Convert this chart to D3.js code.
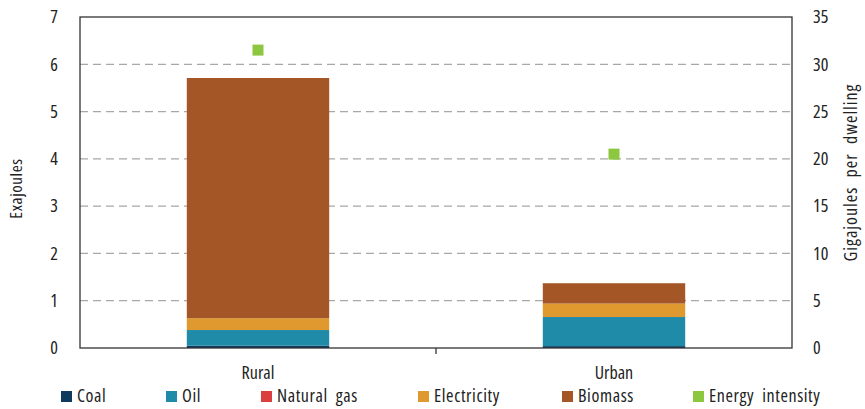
<!DOCTYPE html>
<html>
<head>
<meta charset="utf-8">
<script src="https://cdn.jsdelivr.net/npm/d3@7"></script>
<style>
  html, body { margin: 0; padding: 0; background: #fff; overflow: hidden; }
  svg { display: block; }
  text { font-family: "Open Sans", "DejaVu Sans", sans-serif; font-stretch: 75%; fill: #222; }
</style>
</head>
<body>
<div id="chart"></div>
<script>
var categories = ["Rural", "Urban"];
var fuels = ["Coal", "Oil", "Natural gas", "Electricity", "Biomass"];
var coal = [0.05, 0.04];
var oil = [0.33, 0.615];
var naturalGas = [0, 0];
var electricity = [0.25, 0.285];
var biomass = [5.08, 0.43];
var energyIntensity = [31.5, 20.5];
var leftTicks = [0, 1, 2, 3, 4, 5, 6, 7];
var rightTicks = [0, 5, 10, 15, 20, 25, 30, 35];

var colors = {
    "Coal": "#0e3a5e",
    "Oil": "#1f8ba9",
    "Natural gas": "#d9403f",
    "Electricity": "#df992e",
    "Biomass": "#a45627",
    "Energy intensity": "#8dc63f"
};

var outerWidth = 865;
var outerHeight = 409;
var marginLeft = 80;
var marginRight = 73;
var marginTop = 17;
var marginBottom = 61;
var innerWidth = outerWidth - marginLeft - marginRight;
var innerHeight = outerHeight - marginTop - marginBottom;

var rows = categories.map(function(c, i){
    return {
        category: c,
        "Coal": coal[i],
        "Oil": oil[i],
        "Natural gas": naturalGas[i],
        "Electricity": electricity[i],
        "Biomass": biomass[i],
        intensity: energyIntensity[i]
    };
});

var x = d3.scaleBand()
        .domain(categories)
        .range([marginLeft, marginLeft + innerWidth]);

var y = d3.scaleLinear()
        .domain([0, 7])
        .range([marginTop + innerHeight, marginTop]);

var y2 = d3.scaleLinear()
        .domain([0, 35])
        .range([marginTop + innerHeight, marginTop]);

var svg = d3.select("#chart").append("svg")
            .attr("width", outerWidth)
            .attr("height", outerHeight);

// gridlines
svg.append("g")
    .selectAll("line")
    .data(leftTicks.filter(function(d){ return d > 0 && d < 7; }))
    .enter()
    .append("line")
    .attr("x1", marginLeft)
    .attr("x2", marginLeft + innerWidth)
    .attr("y1", function(d){ return y(d); })
    .attr("y2", function(d){ return y(d); })
    .attr("stroke", "#a8a8a8")
    .attr("stroke-width", 1.3)
    .attr("stroke-dasharray", "8,5");

// stacked bars
var series = d3.stack().keys(fuels)(rows);
var barWidth = x.bandwidth() * 0.4;

svg.append("g")
    .selectAll("g")
    .data(series)
    .enter()
    .append("g")
    .attr("fill", function(d){ return colors[d.key]; })
    .selectAll("rect")
    .data(function(d){ return d; })
    .enter()
    .append("rect")
    .attr("x", function(d){ return x(d.data.category) + (x.bandwidth() - barWidth) / 2; })
    .attr("width", barWidth)
    .attr("y", function(d){ return y(d[1]); })
    .attr("height", function(d){ return y(d[0]) - y(d[1]); });

// energy intensity markers
var sq = 11;
svg.append("g")
    .selectAll("rect")
    .data(rows)
    .enter()
    .append("rect")
    .attr("x", function(d){ return x(d.category) + x.bandwidth() / 2 - sq / 2; })
    .attr("y", function(d){ return y2(d.intensity) - sq / 2; })
    .attr("width", sq)
    .attr("height", sq)
    .attr("fill", colors["Energy intensity"]);

// frame
svg.append("rect")
    .attr("x", marginLeft)
    .attr("y", marginTop)
    .attr("width", innerWidth)
    .attr("height", innerHeight)
    .attr("fill", "none")
    .attr("stroke", "#333")
    .attr("stroke-width", 1.3);

// axes
function cleanAxis(g) {
    g.attr("font-family", null).attr("font-size", null).attr("fill", null);
    g.select(".domain").remove();
    g.selectAll(".tick line").remove();
    g.selectAll(".tick text").style("font-size", "18px").attr("fill", "#222");
}

svg.append("g")
    .attr("transform", "translate(" + marginLeft + ",0)")
    .call(d3.axisLeft(y).tickValues(leftTicks).tickFormat(d3.format("d")).tickSize(0).tickPadding(22))
    .call(cleanAxis);

svg.append("g")
    .attr("transform", "translate(" + (marginLeft + innerWidth) + ",0)")
    .call(d3.axisRight(y2).tickValues(rightTicks).tickFormat(d3.format("d")).tickSize(0).tickPadding(21))
    .call(cleanAxis);

svg.append("g")
    .attr("transform", "translate(0," + (marginTop + innerHeight) + ")")
    .call(d3.axisBottom(x).tickSize(0).tickPadding(18))
    .call(cleanAxis);

// middle separator tick
svg.append("line")
    .attr("x1", marginLeft + innerWidth / 2)
    .attr("x2", marginLeft + innerWidth / 2)
    .attr("y1", marginTop + innerHeight)
    .attr("y2", marginTop + innerHeight + 6)
    .attr("stroke", "#333")
    .attr("stroke-width", 1.3);

// axis titles
svg.append("text")
    .attr("transform", "translate(22," + (marginTop + innerHeight / 2 + 6) + ") rotate(-90)")
    .attr("text-anchor", "middle")
    .style("font-size", "17px")
    .style("letter-spacing", "0.6px")
    .text("Exajoules");

svg.append("text")
    .attr("transform", "translate(857," + (marginTop + innerHeight / 2 - 10) + ") rotate(-90)")
    .attr("text-anchor", "middle")
    .style("font-size", "18px")
    .style("letter-spacing", "1px")
    .style("word-spacing", "5px")
    .text("Gigajoules per dwelling");

// legend
var legendItems = fuels.concat(["Energy intensity"]);
var legendX = [61, 166, 261, 418, 562, 693];
var legend = svg.append("g")
    .selectAll("g")
    .data(legendItems)
    .enter()
    .append("g")
    .attr("transform", function(d, i){ return "translate(" + legendX[i] + ",396)"; });

legend.append("rect")
    .attr("x", 0)
    .attr("y", -5)
    .attr("width", 11)
    .attr("height", 11)
    .attr("fill", function(d){ return colors[d]; });

legend.append("text")
    .attr("x", 16)
    .attr("y", 0)
    .attr("dy", "0.36em")
    .style("font-size", "18px")
    .style("letter-spacing", "0.6px")
    .style("word-spacing", "4px")
    .text(function(d){ return d; });
</script>
</body>
</html>
